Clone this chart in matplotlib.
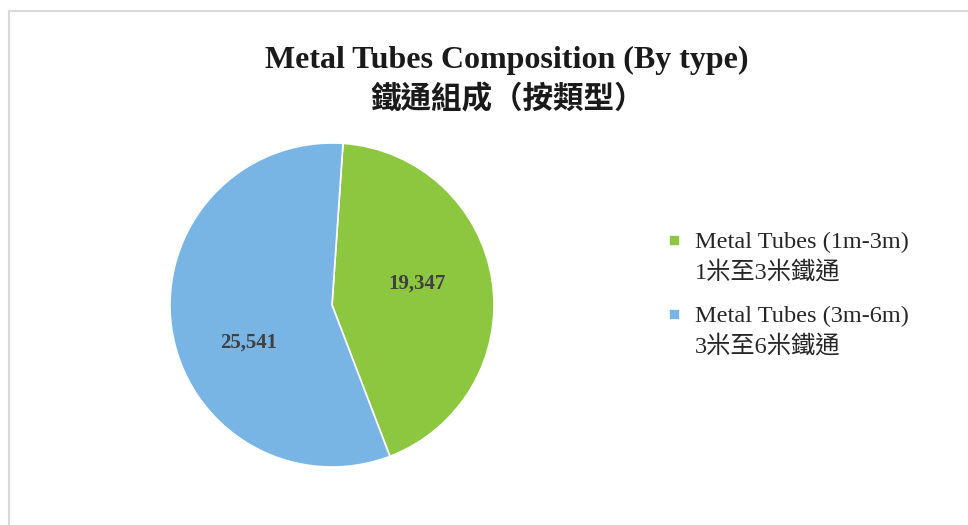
import numpy as np
import matplotlib
matplotlib.use("Agg")
import matplotlib.pyplot as plt
from matplotlib.patches import Rectangle
from matplotlib.legend_handler import HandlerPatch

# ---------------------------------------------
# Data
# ---------------------------------------------
categories = ["Metal Tubes (1m-3m)\n1米至3米鐵通", "Metal Tubes (3m-6m)\n3米至6米鐵通"]
values = [19347, 25541]
colors = ["#8DC63F", "#78B5E4"]
title_en = "Metal Tubes Composition (By type)"
title_zh = "鐵通組成（按類型）"

FONTS = ["Liberation Serif", "Noto Sans CJK TC", "DejaVu Sans"]
plt.rcParams["font.family"] = FONTS

W, H = 968, 525
fig = plt.figure(figsize=(W / 100, H / 100), dpi=100)

# chart frame (only left/top edges visible in the crop)
fig.add_artist(Rectangle((9 / W, -0.2), 1.3, 1 - 11 / H + 0.2, transform=fig.transFigure,
                         fill=False, edgecolor="#d9d9d9", linewidth=1.5))

# pie axes: centre (332, 305) px, radius 162 px -> axes box 2.5 * r
cx, cy, r = 332, 305, 162
side = 2.5 * r
ax = fig.add_axes([(cx - side / 2) / W, (H - cy - side / 2) / H, side / W, side / H])

wedges, texts = ax.pie(values, colors=colors, startangle=86.1, counterclock=False,
                       labels=[f"{v:,}" for v in values], labeldistance=0.55,
                       wedgeprops=dict(edgecolor="white", linewidth=1.2),
                       textprops=dict(fontsize=15, fontweight="bold", color="#404040",
                                      ha="center", va="center_baseline"))
ax.set_aspect("equal")

# data labels sit a bit before the middle of each slice (clockwise), like Excel's
for w, t in zip(wedges, texts):
    ang = np.deg2rad(w.theta2 - 0.44 * (w.theta2 - w.theta1))
    t.set_position((0.55 * np.cos(ang), 0.55 * np.sin(ang) - 0.02))

# title
fig.text(507 / W, 1 - 60 / H, title_en, ha="center", va="center",
         fontsize=23, fontweight="bold", color="#1a1a1a")
fig.text(507 / W, 1 - 100 / H, title_zh, ha="center", va="center",
         fontsize=22, fontweight="bold", color="#1a1a1a")


# legend square aligned with the first line of each two-line label
def top_square(legend, orig_handle, xdescent, ydescent, width, height, fontsize):
    s = 0.45 * fontsize
    return Rectangle((-xdescent, -ydescent + height / 2 - s / 2 + 0.68 * fontsize), s, s)


leg = fig.legend(wedges, categories, loc="upper left", bbox_to_anchor=(669 / W, 1 - 232 / H),
                 frameon=False, fontsize=17.5, borderpad=0, borderaxespad=0,
                 handlelength=0.45, handleheight=0.45, handletextpad=0.6,
                 labelspacing=0.95, labelcolor="#262626",
                 handler_map={w: HandlerPatch(patch_func=top_square) for w in wedges})
for t in leg.get_texts():
    t.set_linespacing(1.4)

fig.savefig("out.png", dpi=100)
